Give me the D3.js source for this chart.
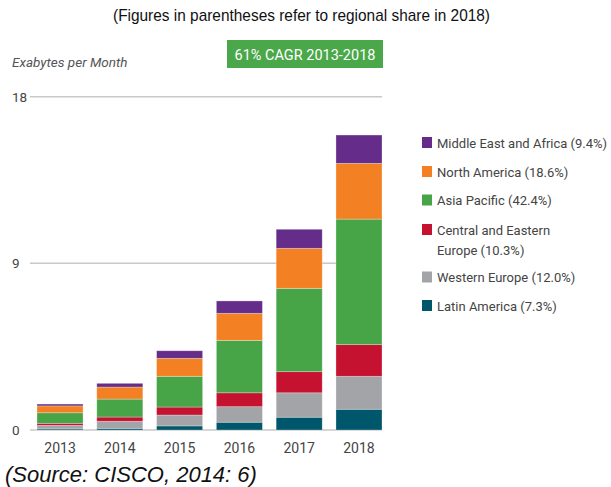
<!DOCTYPE html>
<html>
<head>
<meta charset="utf-8">
<script src="https://cdn.jsdelivr.net/npm/d3@7"></script>
<style>
  html, body { margin: 0; padding: 0; background: #fff; }
  svg { display: block; }
</style>
</head>
<body>
<svg id="chart" width="611" height="487"></svg>
<script>
const years = ["2013", "2014", "2015", "2016", "2017", "2018"];
// Exabytes per month, bottom to top
const latinAmerica   = [0.06, 0.09, 0.22, 0.42, 0.69, 1.12];
const westernEurope  = [0.19, 0.38, 0.59, 0.84, 1.32, 1.78];
const centralEastern = [0.11, 0.23, 0.43, 0.75, 1.14, 1.71];
const asiaPacific    = [0.57, 0.97, 1.66, 2.83, 4.50, 6.78];
const northAmerica   = [0.37, 0.65, 0.97, 1.46, 2.16, 3.01];
const middleEastAfr  = [0.10, 0.20, 0.41, 0.67, 1.03, 1.53];
const yTicks = [0, 9, 18];
const seriesKeys = ["la", "we", "cee", "ap", "na", "mea"];
const seriesNames = {
  mea: ["Middle East and Africa (9.4%)"],
  na: ["North America (18.6%)"],
  ap: ["Asia Pacific (42.4%)"],
  cee: ["Central and Eastern", "Europe (10.3%)"],
  we: ["Western Europe (12.0%)"],
  la: ["Latin America (7.3%)"]
};
const legendOrder = ["mea", "na", "ap", "cee", "we", "la"];
const colors = { mea: "#652d89", na: "#f48024", ap: "#47a447", cee: "#c41230", we: "#a3a4a7", la: "#00566a" };
const subtitle = "(Figures in parentheses refer to regional share in 2018)";
const badgeText = "61% CAGR 2013-2018";
const yLabel = "Exabytes per Month";
const source = "(Source: CISCO, 2014: 6)";

const table = years.map((y, i) => ({
  year: y, la: latinAmerica[i], we: westernEurope[i], cee: centralEastern[i],
  ap: asiaPacific[i], na: northAmerica[i], mea: middleEastAfr[i]
}));

const svg = d3.select("#chart");
const x = d3.scaleBand().domain(years).range([37, 382]).paddingInner(0.23).paddingOuter(0);
const y = d3.scaleLinear().domain([0, 18]).range([430, 96.7]);

// subtitle
svg.append("text").attr("x", 113).attr("y", 21)
  .attr("textLength", 377).attr("lengthAdjust", "spacingAndGlyphs")
  .style("font-family", "'Liberation Sans Narrow', 'Arial Narrow', 'Liberation Sans', sans-serif")
  .style("font-size", "17px").attr("fill", "#111").text(subtitle);

// y label
svg.append("text").attr("x", 12).attr("y", 67)
  .style("font-family", "Roboto, sans-serif").style("font-style", "italic")
  .style("font-size", "13.5px").attr("fill", "#555").text(yLabel);

// badge
svg.append("rect").attr("x", 227).attr("y", 40).attr("width", 156).attr("height", 28).attr("fill", "#4aa84a");
svg.append("text").attr("x", 305).attr("y", 59.5).attr("text-anchor", "middle")
  .style("font-family", "Roboto, sans-serif").style("font-size", "14.5px").attr("fill", "#fff").text(badgeText);

// grid + y ticks
const yAxis = d3.axisLeft(y).tickValues(yTicks).tickSize(0).tickPadding(0);
const gy = svg.append("g").attr("transform", "translate(12,0)").call(yAxis);
gy.select(".domain").remove();
gy.selectAll("text").attr("text-anchor", "start").attr("x", 0)
  .style("font-family", "Roboto, sans-serif").style("font-size", "13.5px").attr("fill", "#444");
svg.append("g").selectAll("line").data(yTicks).join("line")
  .attr("x1", 30).attr("x2", 382).attr("y1", d => y(d)).attr("y2", d => y(d))
  .attr("stroke", "#c8c8c8").attr("stroke-width", 1.5);

// bars
const stack = d3.stack().keys(seriesKeys)(table);
svg.append("g").selectAll("g").data(stack).join("g")
  .attr("fill", d => colors[d.key])
  .selectAll("rect").data(d => d).join("rect")
  .attr("x", d => x(d.data.year)).attr("width", x.bandwidth())
  .attr("y", d => y(d[1])).attr("height", d => y(d[0]) - y(d[1]))
  .attr("stroke", "rgba(255,255,255,0.35)").attr("stroke-width", 0.8);

// x axis labels
const xAxis = d3.axisBottom(x).tickSize(0).tickPadding(0);
const gx = svg.append("g").attr("transform", "translate(0,453)").call(xAxis);
gx.select(".domain").remove();
gx.selectAll("text").attr("dy", 0)
  .style("font-family", "Roboto, sans-serif").style("font-size", "14px").attr("fill", "#444");

// legend
const legendY = { mea: 142.5, na: 171.5, ap: 200, cee: 229.5, we: 277, la: 305.5 };
const lg = svg.append("g");
legendOrder.forEach(k => {
  const cy = legendY[k];
  lg.append("rect").attr("x", 422).attr("y", cy - 5.5).attr("width", 10).attr("height", 11).attr("fill", colors[k]);
  seriesNames[k].forEach((line, j) => {
    lg.append("text").attr("x", 437).attr("y", cy + 5 + j * 20)
      .style("font-family", "Roboto, sans-serif").style("font-size", "13px").attr("fill", "#444").text(line);
  });
});

// source
svg.append("text").attr("x", 5).attr("y", 482)
  .style("font-family", "'Liberation Sans', Arial, sans-serif").style("font-style", "italic")
  .style("font-size", "22px").attr("fill", "#111").text(source);
</script>
</body>
</html>
